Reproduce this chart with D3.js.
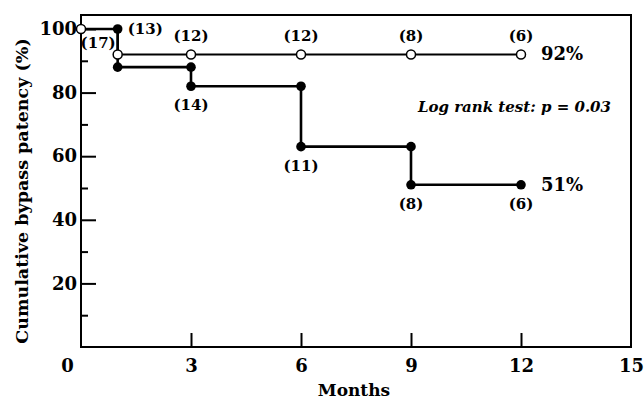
<!DOCTYPE html>
<html>
<head>
<meta charset="utf-8">
<script src="https://cdn.jsdelivr.net/npm/d3@7"></script>
<style>
  html, body { margin: 0; padding: 0; background: #fff; }
  svg text { font-family: "DejaVu Serif", "Liberation Serif", serif; fill: #000; }
</style>
</head>
<body>
<div id="chart"></div>
<script>
// Datos
const months = [0, 1, 3, 6, 9, 12];
const patencyOpen = [100, 92, 92, 92, 92, 92];   // círculos abiertos
const patencyFilled = [100, 88, 82, 63, 51, 51]; // círculos rellenos
const riskOpen = ["(13)", "(12)", "(12)", "(8)", "(6)"];    // meses 1..12
const riskFilled = ["(17)", "(14)", "(11)", "(8)", "(6)"];
const xTickLabels = [0, 3, 6, 9, 12, 15];
const yTickLabels = [20, 40, 60, 80, 100];
const yMinorTicks = [10, 30, 50, 70, 90];
const endOpenLabel = "92%";
const endFilledLabel = "51%";
const testLabel = "Log rank test: p = 0.03";

const W = 644, H = 404;
const margin = {top: 15, right: 13, bottom: 57, left: 81};
const width = W - margin.left - margin.right;
const height = H - margin.top - margin.bottom;

const svg = d3.select("#chart").append("svg")
    .attr("width", W)
    .attr("height", H);

const g = svg.append("g")
    .attr("transform", `translate(${margin.left},${margin.top})`);

const x = d3.scaleLinear().domain([0, 15]).range([0, width]);
// 100 % queda ~14 px por debajo del marco superior
const y = d3.scaleLinear().domain([0, 104.4]).range([height, 0]);

// Marco
g.append("rect")
    .attr("x", 0).attr("y", 0)
    .attr("width", width).attr("height", height)
    .attr("fill", "none")
    .attr("stroke", "#000")
    .attr("stroke-width", 2);

// Eje Y (ticks hacia dentro)
const yAxis = g.append("g")
    .call(d3.axisLeft(y).tickValues(yTickLabels).tickSizeInner(-15).tickSizeOuter(0).tickPadding(4));
yAxis.select(".domain").remove();
yAxis.selectAll(".tick line").attr("stroke", "#000").attr("stroke-width", 2);
yAxis.selectAll("text")
    .style("font-size", "18px")
    .style("font-weight", "bold");

const yMinor = g.append("g")
    .call(d3.axisLeft(y).tickValues(yMinorTicks).tickSizeInner(-7).tickSizeOuter(0).tickFormat(""));
yMinor.select(".domain").remove();
yMinor.selectAll(".tick line").attr("stroke", "#000").attr("stroke-width", 2);

// Eje X
const xAxis = g.append("g")
    .attr("transform", `translate(0,${height})`)
    .call(d3.axisBottom(x).tickValues(xTickLabels).tickSizeInner(-14).tickSizeOuter(0).tickPadding(12));
xAxis.select(".domain").remove();
xAxis.selectAll(".tick line")
    .attr("stroke", "#000").attr("stroke-width", 2)
    .attr("display", d => (d === 0 || d === 15) ? "none" : null);
xAxis.selectAll("text")
    .style("font-size", "18px")
    .style("font-weight", "bold")
    .attr("dx", d => d === 0 ? -14 : 0);

// Títulos de ejes
svg.append("text")
    .attr("transform", `translate(23,${191}) rotate(-90)`)
    .attr("text-anchor", "middle")
    .attr("dominant-baseline", "middle")
    .style("font-size", "17.5px")
    .style("font-weight", "bold")
    .text("Cumulative bypass patency (%)");

svg.append("text")
    .attr("x", 354)
    .attr("y", 396)
    .attr("text-anchor", "middle")
    .style("font-size", "17px")
    .style("font-weight", "bold")
    .text("Months");

// Curvas escalonadas
const line = d3.line()
    .x(d => x(d[0]))
    .y(d => y(d[1]))
    .curve(d3.curveStepAfter);

const openData = months.map((m, i) => [m, patencyOpen[i]]);
const filledData = months.map((m, i) => [m, patencyFilled[i]]);

g.append("path")
    .datum(openData)
    .attr("d", line)
    .attr("fill", "none")
    .attr("stroke", "#000")
    .attr("stroke-width", 2);

g.append("path")
    .datum(filledData)
    .attr("d", line)
    .attr("fill", "none")
    .attr("stroke", "#000")
    .attr("stroke-width", 2.6);

// Marcadores rellenos: antes y después de cada caída
const filledMarkers = [];
filledData.forEach((d, i) => {
    if (i === 0) return;
    const prev = filledData[i - 1][1];
    filledMarkers.push([d[0], prev]);
    if (d[1] !== prev) filledMarkers.push([d[0], d[1]]);
});

// Marcadores abiertos
g.selectAll(".open-pt")
    .data(openData)
    .enter()
    .append("circle")
    .attr("class", "open-pt")
    .attr("cx", d => x(d[0]))
    .attr("cy", d => y(d[1]))
    .attr("r", 4.5)
    .attr("fill", "#fff")
    .attr("stroke", "#000")
    .attr("stroke-width", 1.5);

g.selectAll(".filled-pt")
    .data(filledMarkers)
    .enter()
    .append("circle")
    .attr("class", "filled-pt")
    .attr("cx", d => x(d[0]))
    .attr("cy", d => y(d[1]))
    .attr("r", 4.8)
    .attr("fill", "#000");

// Números en riesgo
const riskFont = "15px";
g.selectAll(".risk-open")
    .data(riskOpen)
    .enter()
    .append("text")
    .attr("class", "risk-open")
    .attr("x", (d, i) => i === 0 ? x(months[1]) + 10 : x(months[i + 1]))
    .attr("y", (d, i) => i === 0 ? y(100) + 1 : y(patencyOpen[i + 1]) - 17)
    .attr("text-anchor", (d, i) => i === 0 ? "start" : "middle")
    .attr("dominant-baseline", "middle")
    .style("font-size", riskFont)
    .style("font-weight", "bold")
    .text(d => d);

g.selectAll(".risk-filled")
    .data(riskFilled)
    .enter()
    .append("text")
    .attr("class", "risk-filled")
    .attr("x", (d, i) => i === 0 ? x(months[1]) - 2 : x(months[i + 1]))
    .attr("y", (d, i) => i === 0 ? y(100) + 15 : y(patencyFilled[i + 1]) + 20)
    .attr("text-anchor", (d, i) => i === 0 ? "end" : "middle")
    .attr("dominant-baseline", "middle")
    .style("font-size", riskFont)
    .style("font-weight", "bold")
    .text(d => d);

// Etiquetas finales
g.append("text")
    .attr("x", x(12) + 20)
    .attr("y", y(patencyOpen[patencyOpen.length - 1]) + 1)
    .attr("dominant-baseline", "middle")
    .style("font-size", "18px")
    .style("font-weight", "bold")
    .text(endOpenLabel);

g.append("text")
    .attr("x", x(12) + 20)
    .attr("y", y(patencyFilled[patencyFilled.length - 1]) + 1)
    .attr("dominant-baseline", "middle")
    .style("font-size", "18px")
    .style("font-weight", "bold")
    .text(endFilledLabel);

g.append("text")
    .attr("x", width - 20)
    .attr("y", y(75))
    .attr("text-anchor", "end")
    .attr("dominant-baseline", "middle")
    .style("font-size", "15px")
    .style("font-weight", "bold")
    .style("font-style", "italic")
    .text(testLabel);
</script>
</body>
</html>
